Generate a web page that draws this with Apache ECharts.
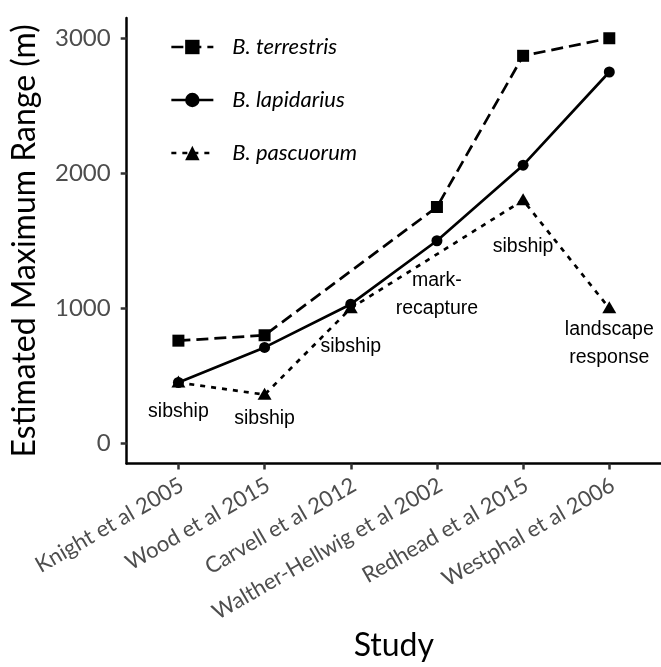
<!DOCTYPE html>
<html>
<head>
<meta charset="utf-8">
<script src="https://cdn.jsdelivr.net/npm/echarts@6/dist/echarts.min.js"></script>
<style>
html,body{margin:0;padding:0;background:#fff;}
#chart{width:661px;height:667px;}
</style>
</head>
<body>
<div id="chart"></div>
<script>
// ---- data ----
const studies = ['Knight et al 2005', 'Wood et al 2015', 'Carvell et al 2012', 'Walther-Hellwig et al 2002', 'Redhead et al 2015', 'Westphal et al 2006'];
const terrestris = [760, 800, null, 1750, 2870, 3000];
const lapidarius = [450, 710, 1030, 1500, 2060, 2750];
const pascuorum  = [450, 360, 1000, null, 1800, 1000];
const methods      = ['sibship', 'sibship', 'sibship', 'mark-\nrecapture', 'sibship', 'landscape\nresponse'];
const methodLabelY = [231, 183, 715, 1102, 1459, 738];
const yTicks = [0, 1000, 2000, 3000];

const xIdx = studies.map((_, i) => i);
const pairs = arr => arr.map((v, i) => [i, v]);

const axisFont = 'Lato, "Noto Sans", sans-serif';
const chart = echarts.init(document.getElementById('chart'), null, {renderer: 'canvas'});

const option = {
  animation: false,
  backgroundColor: '#ffffff',
  grid: {left: 126.7, top: 18, width: 538.8, height: 450.8, containLabel: false},
  legend: {
    show: true,
    orient: 'vertical',
    left: 165,
    top: 31,
    itemWidth: 42,
    itemHeight: 18,
    itemGap: 31,
    lineStyle: {width: 2.7},
    textStyle: {fontFamily: axisFont, fontStyle: 'italic', fontSize: 22, color: '#000', lineHeight: 20, padding: [0, 0, 0, 14]},
    data: ['B. terrestris', 'B. lapidarius', 'B. pascuorum']
  },
  xAxis: {
    type: 'value',
    min: -0.6,
    max: 5.6,
    name: 'Study',
    nameLocation: 'middle',
    nameGap: 166,
    nameTextStyle: {fontFamily: axisFont, fontSize: 32, color: '#000'},
    axisLine: {show: true, onZero: false, lineStyle: {color: '#000', width: 2.5}},
    axisTick: {show: true, customValues: xIdx, length: 6, lineStyle: {color: '#333', width: 2.5}},
    axisLabel: {
      customValues: xIdx,
      rotate: 30,
      margin: 22,
      padding: [0, -4, 0, 0],
      fontFamily: axisFont,
      fontSize: 22,
      color: '#4d4d4d',
      formatter: v => studies[Math.round(v)]
    },
    splitLine: {show: false}
  },
  yAxis: {
    type: 'value',
    min: -150,
    max: 3150,
    name: 'Estimated Maximum Range (m)',
    nameLocation: 'middle',
    nameGap: 86,
    nameTextStyle: {fontFamily: axisFont, fontSize: 32, color: '#000'},
    axisLine: {show: true, onZero: false, lineStyle: {color: '#000', width: 2.5}},
    axisTick: {show: true, customValues: yTicks, length: 6, lineStyle: {color: '#333', width: 2.5}},
    axisLabel: {customValues: yTicks, margin: 16, fontFamily: axisFont, fontSize: 24, color: '#4d4d4d', formatter: v => String(v)},
    splitLine: {show: false}
  },
  series: [
    {
      name: 'B. terrestris', type: 'line', data: pairs(terrestris), connectNulls: true,
      symbol: 'rect', symbolSize: 12,
      lineStyle: {color: '#000', width: 2.7, type: [12, 6]},
      itemStyle: {color: '#000'}
    },
    {
      name: 'B. lapidarius', type: 'line', data: pairs(lapidarius), connectNulls: true,
      symbol: 'circle', symbolSize: 11,
      lineStyle: {color: '#000', width: 2.7, type: 'solid'},
      itemStyle: {color: '#000'}
    },
    {
      name: 'B. pascuorum', type: 'line', data: pairs(pascuorum), connectNulls: true,
      symbol: 'triangle', symbolSize: [14, 12], symbolOffset: [0, -1],
      lineStyle: {color: '#000', width: 2.7, type: [5, 6]},
      itemStyle: {color: '#000'}
    },
    {
      name: 'method', type: 'scatter', silent: true,
      data: methodLabelY.map((v, i) => [i, v, methods[i]]),
      symbol: 'circle', symbolSize: 1,
      itemStyle: {color: 'rgba(0,0,0,0)', opacity: 1},
      label: {
        show: true, position: 'inside',
        formatter: p => p.data[2],
        fontFamily: 'Liberation Sans',
        fontSize: 19.5, lineHeight: 28, color: '#000', opacity: 1, align: 'center',
        textBorderWidth: 0
      }
    }
  ]
};
chart.setOption(option);
</script>
</body>
</html>
